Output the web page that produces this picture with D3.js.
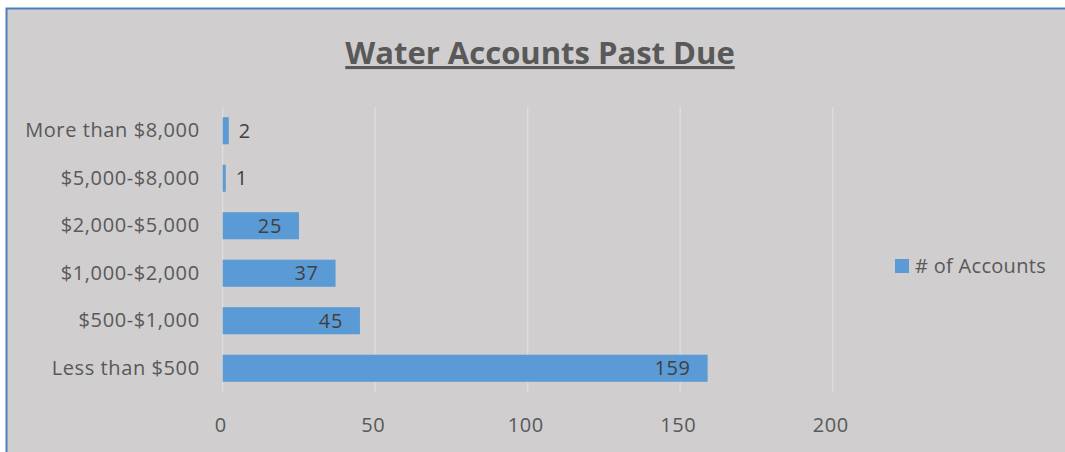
<!DOCTYPE html>
<html><head><meta charset="utf-8">
<script src="https://cdn.jsdelivr.net/npm/d3@7"></script>
<style>body{margin:0;background:#fff;}svg{display:block;}</style>
</head><body>
<svg id="c" width="1065" height="452"></svg>
<script>
const categories = ["More than $8,000","$5,000-$8,000","$2,000-$5,000","$1,000-$2,000","$500-$1,000","Less than $500"];
const values = [2,1,25,37,45,159];
const tickValues = [0,50,100,150,200];
const seriesName = "# of Accounts";
const title = "Water Accounts Past Due";

const svg = d3.select("#c");
const W = 1065, H = 452;
const font = "'Open Sans', sans-serif";
const fs = 20, ls = 0.6;

// background + border
svg.append("rect").attr("x",6.5).attr("y",8.5).attr("width",W).attr("height",H)
  .attr("fill","#d0cecf").attr("stroke","#4a7ebf").attr("stroke-width",2);

const x = d3.scaleLinear().domain([0,200]).range([222.7,832.7]);
const y = d3.scaleBand().domain(categories).range([107,392]).paddingInner(0.43).paddingOuter(0.215);

// gridlines
svg.append("g").selectAll("line").data(tickValues).join("line")
  .attr("x1",d=>x(d)).attr("x2",d=>x(d)).attr("y1",107).attr("y2",392)
  .attr("stroke","#dddbdc").attr("stroke-width",1.5);

// title
svg.append("text").attr("x",540).attr("y",64).attr("text-anchor","middle")
  .attr("font-family",font).attr("font-size",31).attr("font-weight","bold")
  .attr("fill","#595959").attr("text-decoration","underline").text(title);

// bars
svg.append("g").selectAll("rect").data(values).join("rect")
  .attr("x",x(0)).attr("y",(d,i)=>y(categories[i]))
  .attr("width",d=>x(d)-x(0)).attr("height",y.bandwidth()).attr("fill","#5b9bd5");

// data labels
svg.append("g").selectAll("text").data(values).join("text")
  .attr("x",d=> (x(d)-x(0) > 40) ? x(d)-17 : x(d)+10)
  .attr("text-anchor",d=> (x(d)-x(0) > 40) ? "end" : "start")
  .attr("y",(d,i)=>y(categories[i])+y.bandwidth()/2).attr("dy","0.36em")
  .attr("font-family",font).attr("font-size",fs).attr("letter-spacing",ls).attr("fill","#404040").text(d=>d);

// y axis labels
const yAxis = d3.axisLeft(y).tickSize(0).tickPadding(23);
const yg = svg.append("g").attr("transform",`translate(${x(0)},0)`).call(yAxis);
yg.select(".domain").remove();
yg.selectAll("text").attr("font-family",font).attr("font-size",fs).attr("letter-spacing",ls).attr("fill","#595959");

// x axis labels
const xAxis = d3.axisBottom(x).tickValues(tickValues).tickSize(0).tickPadding(0);
const xg = svg.append("g").attr("transform","translate(-2.5,432)").call(xAxis);
xg.select(".domain").remove();
xg.selectAll("text").attr("dy",0).attr("font-family",font).attr("font-size",fs).attr("letter-spacing",ls).attr("fill","#595959");

// legend
const lg = svg.append("g");
lg.append("rect").attr("x",895).attr("y",259).attr("width",14).attr("height",14).attr("fill","#5b9bd5");
lg.append("text").attr("x",915).attr("y",273).attr("font-family",font)
  .attr("font-size",fs).attr("letter-spacing",0.3).attr("fill","#595959").text(seriesName);
</script>
</body></html>
